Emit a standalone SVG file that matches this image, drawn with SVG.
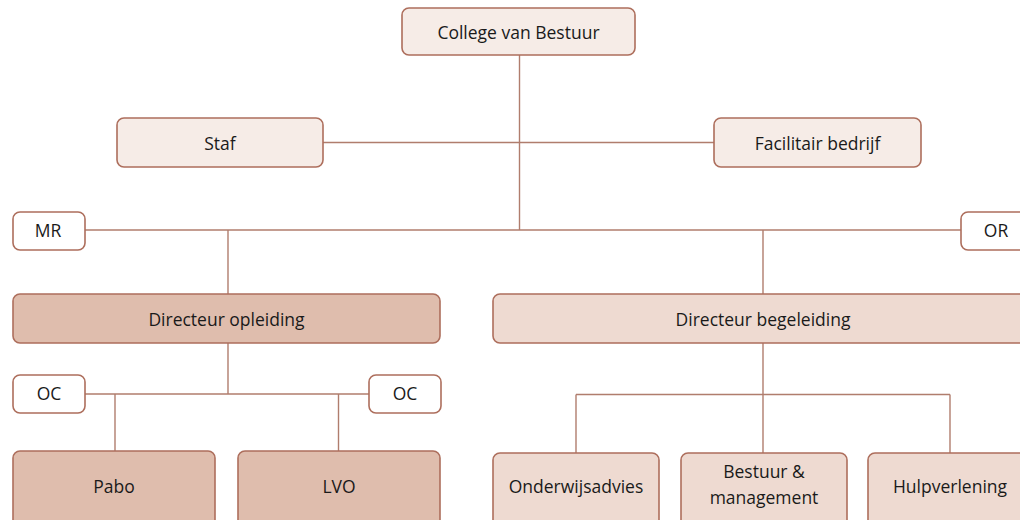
<svg xmlns="http://www.w3.org/2000/svg" width="1020" height="520" viewBox="0 0 1020 520">
<style>
rect{stroke:#AD6E5C;stroke-width:1.6}
.l1{fill:#F6ECE7}
.l2{fill:#EEDAD1}
.d{fill:#DFBDAD}
.w{fill:#FFFFFF}
text{font-family:"Open Sans","Liberation Sans",sans-serif;font-size:17.5px;fill:#1A1A1A;text-anchor:middle;dominant-baseline:central}
.c line{stroke:#B07D6D;stroke-width:1.4}
</style>
<rect x="0" y="0" width="1020" height="520" fill="#FFFFFF" style="stroke:none"/>
<g class="c" id="connectors">
<line x1="519.5" y1="55" x2="519.5" y2="230"/>
<line x1="323" y1="142.5" x2="714" y2="142.5"/>
<line x1="85" y1="230" x2="961" y2="230"/>
<line x1="228" y1="230" x2="228" y2="294"/>
<line x1="763" y1="230" x2="763" y2="294"/>
<line x1="228" y1="343" x2="228" y2="394"/>
<line x1="85" y1="394" x2="369" y2="394"/>
<line x1="115" y1="394" x2="115" y2="451"/>
<line x1="338.5" y1="394" x2="338.5" y2="451"/>
<line x1="763" y1="343" x2="763" y2="453"/>
<line x1="576" y1="394.5" x2="950" y2="394.5"/>
<line x1="576" y1="394.5" x2="576" y2="453"/>
<line x1="950" y1="394.5" x2="950" y2="453"/>
</g>
<g id="cvb"><rect class="l1" x="402" y="8" width="233" height="47" rx="7"/><text x="518.5" y="31.5">College van Bestuur</text></g>
<g id="staf"><rect class="l1" x="117" y="118" width="206" height="49" rx="7"/><text x="220" y="142.5">Staf</text></g>
<g id="facilitair"><rect class="l1" x="714" y="118" width="207" height="49" rx="7"/><text x="817.5" y="142.5">Facilitair bedrijf</text></g>
<g id="mr"><rect class="w" x="13" y="212" width="72" height="38" rx="7"/><text x="48" y="230">MR</text></g>
<g id="or"><rect class="w" x="961" y="212" width="72" height="38" rx="7"/><text x="996" y="230">OR</text></g>
<g id="dir-opleiding"><rect class="d" x="13" y="294" width="427" height="49" rx="7"/><text x="226.5" y="319">Directeur opleiding</text></g>
<g id="dir-begeleiding"><rect class="l2" x="493" y="294" width="540" height="49" rx="7"/><text x="763" y="319">Directeur begeleiding</text></g>
<g id="oc1"><rect class="w" x="13" y="375" width="72" height="38" rx="7"/><text x="49" y="393">OC</text></g>
<g id="oc2"><rect class="w" x="369" y="375" width="72" height="38" rx="7"/><text x="405" y="393">OC</text></g>
<g id="pabo"><rect class="d" x="13" y="451" width="202" height="80" rx="7"/><text x="114" y="485.5">Pabo</text></g>
<g id="lvo"><rect class="d" x="238" y="451" width="202" height="80" rx="7"/><text x="339" y="485.5">LVO</text></g>
<g id="onderwijsadvies"><rect class="l2" x="493" y="453" width="166" height="80" rx="7"/><text x="576" y="485.5">Onderwijsadvies</text></g>
<g id="bestuur"><rect class="l2" x="681" y="453" width="166" height="80" rx="7"/><text x="764" y="471">Bestuur &amp;</text><text x="764" y="497">management</text></g>
<g id="hulpverlening"><rect class="l2" x="868" y="453" width="166" height="80" rx="7"/><text x="950" y="485.5">Hulpverlening</text></g>
</svg>
